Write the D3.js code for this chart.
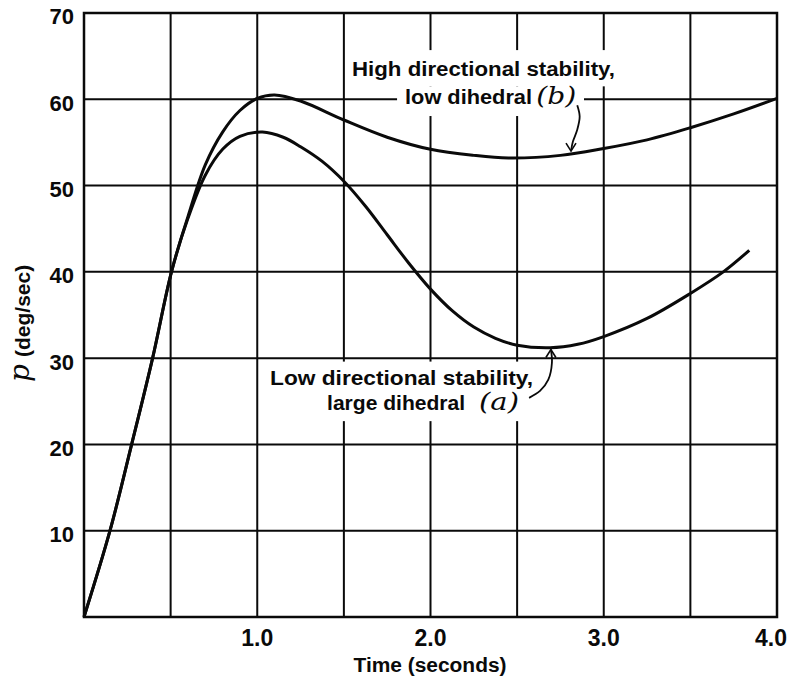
<!DOCTYPE html>
<html><head><meta charset="utf-8">
<script src="https://cdn.jsdelivr.net/npm/d3@7/dist/d3.min.js"></script>
<style>
html,body{margin:0;padding:0;background:#fff;}
svg{display:block;}
</style></head>
<body>
<svg id="chart" width="794" height="686"></svg>
<script>
// ---- data ----
const timeA = [0, 0.15, 0.275, 0.396, 0.505, 0.6, 0.7, 0.8, 0.9, 1.03, 1.15, 1.25, 1.375, 1.5, 1.625, 1.75, 1.875, 2.0, 2.125, 2.25, 2.375, 2.5, 2.69, 2.85, 3.0, 3.25, 3.5, 3.69, 3.84];
const pA    = [0, 10, 20, 30, 40, 46.2, 51.2, 54.2, 55.7, 56.2, 55.6, 54.5, 52.8, 50.5, 47.6, 44.3, 41.0, 38.0, 35.5, 33.6, 32.3, 31.5, 31.2, 31.6, 32.5, 34.6, 37.5, 40.0, 42.5];
const timeB = [0, 0.15, 0.275, 0.396, 0.505, 0.6, 0.7, 0.8, 0.9, 1.0, 1.1, 1.25, 1.5, 1.75, 2.0, 2.25, 2.45, 2.75, 3.0, 3.25, 3.5, 3.75, 4.0];
const pB    = [0, 10, 20, 30, 40, 46.4, 52.4, 56.2, 58.7, 60.1, 60.5, 59.8, 57.6, 55.6, 54.2, 53.5, 53.2, 53.5, 54.3, 55.3, 56.7, 58.3, 60.1];
const xTicks = [1.0, 2.0, 3.0, 4.0];
const xTickLabels = ["1.0", "2.0", "3.0", "4.0"];
const yTicks = [10, 20, 30, 40, 50, 60, 70];
const xGrid = [0.5, 1.0, 1.5, 2.0, 2.5, 3.0, 3.5];
const yGrid = [10, 20, 30, 40, 50, 60];
const labelB = ["High directional stability,", "low dihedral", "(b)"];
const labelA = ["Low directional stability,", "large dihedral", "(a)"];
const xTitle = "Time (seconds)";
const yTitleVar = "p";
const yTitleUnit = "(deg/sec)";

// ---- layout ----
const svg = d3.select("#chart");
const x = d3.scaleLinear().domain([0, 4]).range([84, 777]);
const y = d3.scaleLinear().domain([0, 70]).range([617, 13]);
const ink = "#0a0a0a";
const sans = "'Liberation Sans', Arial, sans-serif";
const serif = "'DejaVu Serif', 'Liberation Serif', serif";

// grid
svg.append("g").selectAll("line").data(xGrid).join("line")
  .attr("x1", d => x(d)).attr("x2", d => x(d))
  .attr("y1", y(0)).attr("y2", y(70))
  .attr("stroke", ink).attr("stroke-width", 2);
svg.append("g").selectAll("line").data(yGrid).join("line")
  .attr("x1", x(0)).attr("x2", x(4))
  .attr("y1", d => y(d)).attr("y2", d => y(d))
  .attr("stroke", ink).attr("stroke-width", 2);

// frame
svg.append("rect")
  .attr("x", x(0)).attr("y", y(70))
  .attr("width", x(4) - x(0)).attr("height", y(0) - y(70))
  .attr("fill", "none").attr("stroke", ink).attr("stroke-width", 2.5);

// white backgrounds behind annotation text
const bgRects = [
  [1.524, 3.105, 65.7, 61.5],
  [1.807, 2.886, 61.5, 58.06],
  [1.035, 2.615, 29.6, 22.7]
];
svg.append("g").selectAll("rect").data(bgRects).join("rect")
  .attr("x", d => x(d[0])).attr("width", d => x(d[1]) - x(d[0]))
  .attr("y", d => y(d[2])).attr("height", d => y(d[3]) - y(d[2]))
  .attr("fill", "#fff");

// curves
const line = d3.line().x(d => x(d[0])).y(d => y(d[1])).curve(d3.curveCatmullRom.alpha(0.5));
svg.append("path").datum(timeA.map((t, i) => [t, pA[i]]))
  .attr("d", line).attr("fill", "none").attr("stroke", ink).attr("stroke-width", 3)
  .attr("stroke-linejoin", "round");
svg.append("path").datum(timeB.map((t, i) => [t, pB[i]]))
  .attr("d", line).attr("fill", "none").attr("stroke", ink).attr("stroke-width", 3)
  .attr("stroke-linejoin", "round");

// y tick labels
svg.append("g").selectAll("text").data(yTicks).join("text")
  .attr("x", x(0) - 10).attr("y", d => y(d)).attr("dy", "0.52em")
  .attr("text-anchor", "end")
  .attr("font-family", sans).attr("font-weight", "bold").attr("font-size", 22)
  .attr("fill", ink).text(d => d);

// x tick labels
svg.append("g").selectAll("text").data(xTicks).join("text")
  .attr("x", (d, i) => x(d) - (i === xTicks.length - 1 ? 6 : 0)).attr("y", 646)
  .attr("text-anchor", "middle")
  .attr("font-family", sans).attr("font-weight", "bold").attr("font-size", 23)
  .attr("fill", ink).text((d, i) => xTickLabels[i]);

// axis titles
svg.append("text").attr("x", 430).attr("y", 672).attr("text-anchor", "middle")
  .attr("font-family", sans).attr("font-weight", "bold").attr("font-size", 20)
  .attr("textLength", 153).attr("lengthAdjust", "spacingAndGlyphs")
  .attr("fill", ink).text(xTitle);
svg.append("text").attr("transform", "translate(29,382) rotate(-90)")
  .attr("font-family", serif).attr("font-style", "italic").attr("font-size", 28)
  .attr("fill", ink).text(yTitleVar);
svg.append("text").attr("transform", "translate(30,357) rotate(-90)")
  .attr("font-family", sans).attr("font-weight", "bold").attr("font-size", 21)
  .attr("fill", ink).text(yTitleUnit);

// annotation helper
function ann(t, p, str, len, opts) {
  const el = svg.append("text").attr("x", x(t)).attr("y", y(p))
    .attr("font-family", opts && opts.serif ? serif : sans)
    .attr("font-weight", opts && opts.serif ? "normal" : "bold")
    .attr("font-style", opts && opts.serif ? "italic" : "normal")
    .attr("font-size", opts && opts.size ? opts.size : 20)
    .attr("fill", ink).text(str);
  if (len) el.attr("textLength", len).attr("lengthAdjust", "spacingAndGlyphs");
  return el;
}
ann(1.547, 62.7, labelB[0], 263);
ann(1.853, 59.4, labelB[1], 127);
ann(2.61, 59.4, labelB[2], 40, {serif: true, size: 25});
ann(1.074, 26.9, labelA[0], 263);
ann(1.403, 24.0, labelA[1], 138);
ann(2.28, 24.0, labelA[2], 40, {serif: true, size: 25});

// leader arrows
const leader = d3.line().x(d => x(d[0])).y(d => y(d[1])).curve(d3.curveCatmullRom);
const arrowB = [[2.847, 59.3], [2.861, 58.0], [2.846, 56.4], [2.822, 55.1], [2.811, 54.0]];
const arrowA = [[2.695, 31.0], [2.701, 29.5], [2.680, 27.5], [2.632, 26.2], [2.569, 25.4]];
[arrowB, arrowA].forEach(pts => {
  svg.append("path").datum(pts).attr("d", leader)
    .attr("fill", "none").attr("stroke", ink).attr("stroke-width", 1.8);
});
// arrowheads
function head(tip, dir) {
  const tx = x(tip[0]), ty = y(tip[1]);
  svg.append("path")
    .attr("d", `M${tx - 5},${ty - 8 * dir} L${tx},${ty} L${tx + 5},${ty - 8 * dir}`)
    .attr("fill", "none").attr("stroke", ink).attr("stroke-width", 1.6);
}
head(arrowB[arrowB.length - 1], 1);
head(arrowA[0], -1);
</script>
</body></html>
